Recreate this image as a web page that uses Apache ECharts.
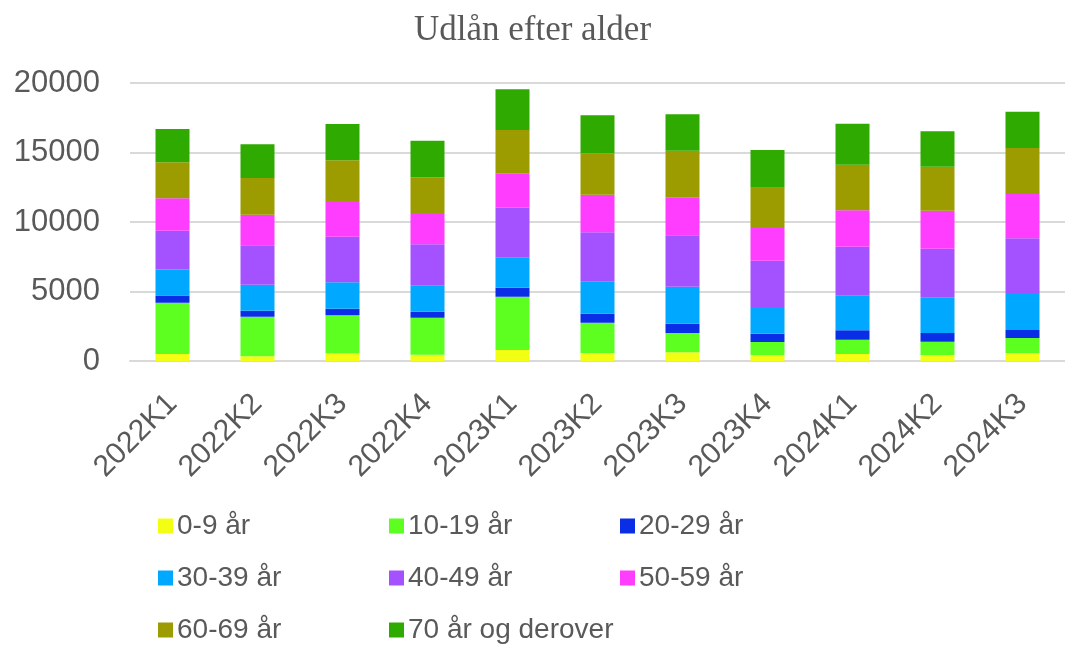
<!DOCTYPE html>
<html>
<head>
<meta charset="utf-8">
<script src="https://cdn.jsdelivr.net/npm/echarts@6/dist/echarts.min.js"></script>
<style>
  html, body { margin: 0; padding: 0; background: #fff; }
  #chart { width: 1065px; height: 646px; }
</style>
</head>
<body>
<div id="chart"></div>
<script>
const categories = ['2022K1','2022K2','2022K3','2022K4','2023K1','2023K2','2023K3','2023K4','2024K1','2024K2','2024K3'];
const seriesNames = ['0-9 år','10-19 år','20-29 år','30-39 år','40-49 år','50-59 år','60-69 år','70 år og derover'];
const colors = ['#F2FF12','#5CFF20','#0A2DE6','#00A8FF','#A452FF','#FF3DFF','#9C9C00','#2EAA00'];
const age0_9   = [500, 335, 550, 455, 790, 575, 625, 430, 505, 430, 575];
const age10_19 = [3690, 2855, 2735, 2660, 3835, 2180, 1390, 935, 1030, 960, 1080];
const age20_29 = [530, 430, 480, 435, 650, 650, 670, 600, 670, 625, 575];
const age30_39 = [1870, 1870, 1895, 1895, 2185, 2325, 2660, 1920, 2520, 2565, 2660];
const age40_49 = [2780, 2830, 3285, 2950, 3570, 3525, 3695, 3330, 3500, 3500, 3935];
const age50_59 = [2330, 2205, 2565, 2250, 2470, 2710, 2735, 2425, 2615, 2735, 3190];
const age60_69 = [2590, 2640, 2925, 2570, 3120, 2975, 3355, 2830, 3285, 3165, 3310];
const age70    = [2395, 2425, 2615, 2635, 2925, 2735, 2615, 2710, 2950, 2545, 2610];
const yTicks = [0, 5000, 10000, 15000, 20000];

const allData = [age0_9, age10_19, age20_29, age30_39, age40_49, age50_59, age60_69, age70];

const chart = echarts.init(document.getElementById('chart'));
const textColor = '#595959';
const font = 'Liberation Sans, Arial, sans-serif';

chart.setOption({
  animation: false,
  backgroundColor: '#ffffff',
  color: colors,
  title: {
    text: 'Udlån efter alder',
    left: 'center',
    top: 8,
    textStyle: { fontFamily: 'Liberation Serif, Times New Roman, serif', fontSize: 35, fontWeight: 'normal', color: textColor }
  },
  legend: {
    left: 153,
    top: 495,
    width: 720,
    itemWidth: 15,
    itemHeight: 15,
    itemGap: 0,
    icon: 'rect',
    data: seriesNames,
    textStyle: { fontFamily: font, fontSize: 28, color: textColor, width: 212, lineHeight: 52, padding: [0,0,0,-1] }
  },
  grid: { left: 130, right: -11, top: 83, bottom: 285, containLabel: false },
  xAxis: {
    type: 'category',
    data: categories,
    axisLine: { lineStyle: { color: '#d9d9d9', width: 2 } },
    axisTick: { show: false },
    axisLabel: { rotate: 45, fontFamily: font, fontSize: 30, color: textColor, margin: 38, interval: 0 }
  },
  yAxis: {
    type: 'value',
    min: yTicks[0],
    max: yTicks[yTicks.length - 1],
    interval: 5000,
    axisLine: { show: false },
    axisTick: { show: false },
    splitLine: { lineStyle: { color: '#d9d9d9', width: 2 } },
    axisLabel: { fontFamily: font, fontSize: 31, color: textColor, margin: 30, formatter: v => String(v) }
  },
  series: seriesNames.map((name, i) => ({
    name: name,
    type: 'bar',
    stack: 'total',
    barWidth: 34,
    data: allData[i],
    itemStyle: { color: colors[i] }
  }))
});
</script>
</body>
</html>
